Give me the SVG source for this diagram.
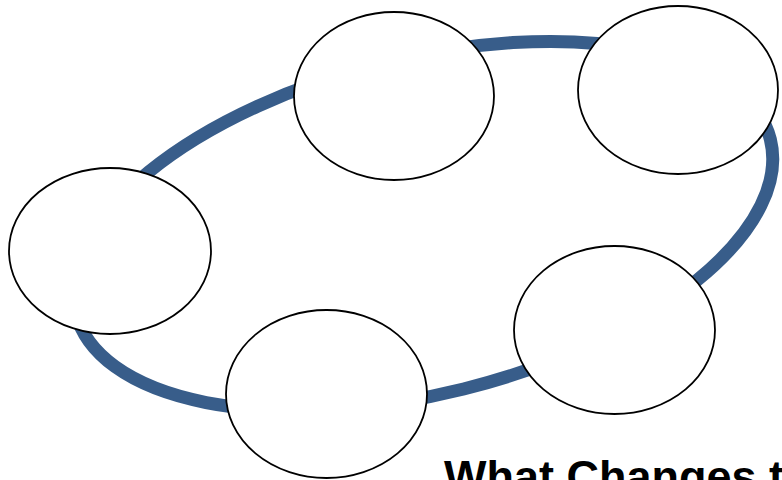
<svg xmlns="http://www.w3.org/2000/svg" width="782" height="480" viewBox="0 0 782 480">
  <style>
    .node { fill: #ffffff; stroke: #000000; stroke-width: 1.8; }
    .ring { fill: none; stroke: #385D8A; stroke-width: 13; }
    .title { font-family: "Liberation Sans", Arial, sans-serif; font-weight: bold; font-size: 45px; fill: #000000; }
  </style>
  <rect width="782" height="480" fill="#ffffff"/>
  <g id="connectors">
    <ellipse class="ring" cx="423" cy="226" rx="358" ry="168" transform="rotate(-14 423 226)"/>
  </g>
  <g id="node1"><ellipse class="node" cx="110" cy="251" rx="101" ry="83"/></g>
  <g id="node2"><ellipse class="node" cx="394" cy="96" rx="100" ry="84"/></g>
  <g id="node3"><ellipse class="node" cx="678" cy="90" rx="100" ry="84"/></g>
  <g id="node4"><ellipse class="node" cx="326.5" cy="394" rx="100.5" ry="84"/></g>
  <g id="node5"><ellipse class="node" cx="614.5" cy="330" rx="100.5" ry="84"/></g>
  <g id="title"><text class="title" x="444" y="492">What Changes t</text></g>
</svg>
